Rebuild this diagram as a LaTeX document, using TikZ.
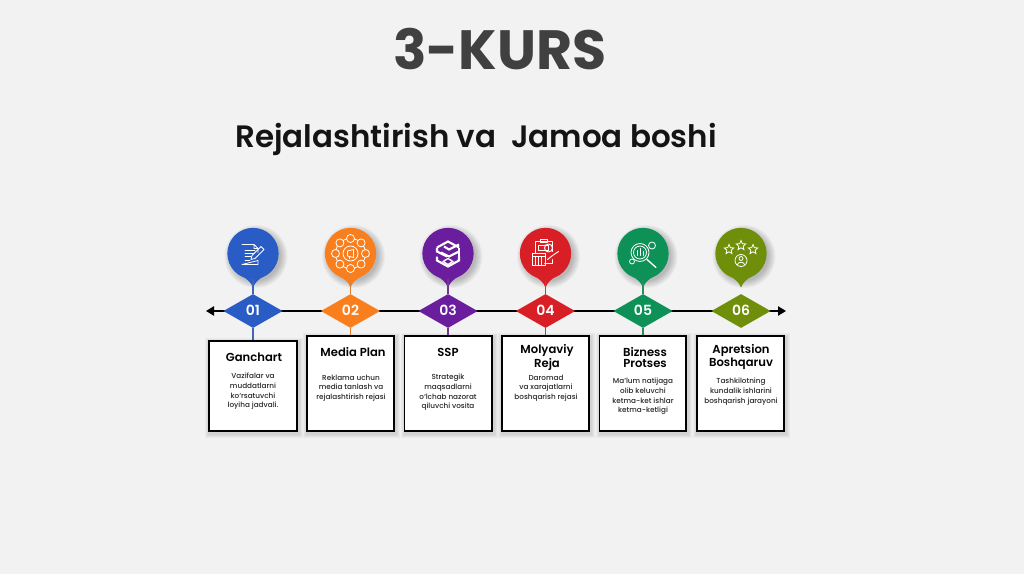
\documentclass[tikz,border=0pt]{standalone}
\usepackage{fontspec}
\setmainfont{Poppins}[BoldFont=Poppins SemiBold]
\newfontfamily\heavyfont{Poppins Bold}
\newfontfamily\midfont{Poppins Medium}
\usetikzlibrary{shapes.geometric,arrows.meta}
\definecolor{bgc}{HTML}{F2F2F2}
\definecolor{cA}{HTML}{2A5CC6}
\definecolor{cB}{HTML}{F97F1E}
\definecolor{cC}{HTML}{6A1E9E}
\definecolor{cD}{HTML}{D91F26}
\definecolor{cE}{HTML}{0E9156}
\definecolor{cF}{HTML}{6F8F0A}
\definecolor{titlec}{HTML}{404040}
\tikzset{
  ball/.style={circle,fill=#1,minimum size=38.5pt,inner sep=0pt},
  gem/.style={diamond,fill=#1,minimum width=44.5pt,minimum height=25.5pt,inner sep=0pt,text=white,font=\fontsize{10.5}{12}\selectfont\bfseries},
  card/.style={rectangle,draw=black,line width=1.4pt,fill=white,inner sep=0pt,anchor=north west},
  cardhead/.style={align=center,inner sep=0pt,text=black,font=\fontsize{8.7}{8}\selectfont\bfseries},
  carddesc/.style={align=center,inner sep=0pt,text=black!85,font=\fontsize{5.45}{7.3}\midfont\selectfont},
  stem/.style={line width=0.8pt,#1!75!gray},
  ico/.style={draw=white,line width=0.6pt,line join=round,line cap=round},
  icob/.style={draw=white,line width=1.6pt,line join=miter},
  axis/.style={line width=1.1pt,black,{Triangle[length=6pt,width=7pt]}-{Triangle[length=6pt,width=7pt]}},
  starico/.style={star,star points=5,star point ratio=2.2,draw=white,line width=0.6pt,inner sep=0pt,minimum size=7.5pt}
}
% soft shadows
\newcommand{\ballshadow}[2]{%
  \foreach \d in {7,6,5,4,3,2,1,0}{\fill[black,opacity=.03] (#1+3,#2+3) circle ({24.5+\d});}}
\newcommand{\boxshadow}[4]{%
  \foreach \d in {4,3,2,1}{\fill[black,opacity=.03] (#1-\d+1,#2-\d+2) rectangle (#3+\d+1,#4+\d+2);}}
\newcommand{\drop}[3]{\fill[#3] (#1-12,#2+22) .. controls (#1-5,#2+26) and (#1-2,#2+29) .. (#1,#2+34) .. controls (#1+2,#2+29) and (#1+5,#2+26) .. (#1+12,#2+22) -- cycle;}
\newcommand{\up}[1]{\raisebox{1.5pt}{#1}}
\begin{document}
\begin{tikzpicture}[x=0.75pt,y=-0.75pt]
\useasboundingbox (0,0) rectangle (1024,574);
\fill[bgc] (0,0) rectangle (1024,574);
\node[inner sep=0pt,text=titlec,font=\fontsize{41.5}{48}\heavyfont\selectfont] (title) at (500,49) {3-KURS};
\node[inner sep=0pt,text=black!92,font=\fontsize{23.2}{28}\selectfont\bfseries] (sub) at (476,139) {Rejalashtirish va\ \ Jamoa boshi};
% axis
\coordinate (axL) at (206,311);
\coordinate (axR) at (786,311);
\draw[axis] (axL) -- (axR);
% shadows and tips
\ballshadow{253}{253.5}\ballshadow{350.5}{253.5}\ballshadow{448}{253.5}\ballshadow{545.5}{253.5}\ballshadow{643}{253.5}\ballshadow{741}{253.5}
\boxshadow{208}{340}{298}{432}\boxshadow{306}{335}{395}{432}\boxshadow{403.5}{335}{493}{432}\boxshadow{501}{335}{590}{432}\boxshadow{598.5}{335}{687}{432}\boxshadow{696}{335}{785}{432}
\drop{253}{253.5}{cA}\drop{350.5}{253.5}{cB}\drop{448}{253.5}{cC}\drop{545.5}{253.5}{cD}\drop{643}{253.5}{cE}\drop{741}{253.5}{cF}
% balls
\node[ball=cA] (c1) at (253,253.5) {};
\node[ball=cB] (c2) at (350.5,253.5) {};
\node[ball=cC] (c3) at (448,253.5) {};
\node[ball=cD] (c4) at (545.5,253.5) {};
\node[ball=cE] (c5) at (643,253.5) {};
\node[ball=cF] (c6) at (741,253.5) {};
% gems
\node[gem=cA] (d1) at (253,311) {\up{01}};
\node[gem=cB] (d2) at (350.5,311) {\up{02}};
\node[gem=cC] (d3) at (448,311) {\up{03}};
\node[gem=cD] (d4) at (545.5,311) {\up{04}};
\node[gem=cE] (d5) at (643,311) {\up{05}};
\node[gem=cF] (d6) at (741,311) {\up{06}};
% cards
\node[card,minimum width=66.2pt,minimum height=67.7pt] (b1) at (208,340) {};
\node[card,minimum width=65.5pt,minimum height=71.4pt] (b2) at (306,335) {};
\node[card,minimum width=65.8pt,minimum height=71.4pt] (b3) at (403.5,335) {};
\node[card,minimum width=65.5pt,minimum height=71.4pt] (b4) at (501,335) {};
\node[card,minimum width=65.1pt,minimum height=71.4pt] (b5) at (598.5,335) {};
\node[card,minimum width=65.5pt,minimum height=71.4pt] (b6) at (696,335) {};
% stems
\draw[stem=cA] (c1.south) -- (d1.north); \draw[stem=cA] (d1.south) -- (b1.north -| d1.south);
\draw[stem=cB] (c2.south) -- (d2.north); \draw[stem=cB] (d2.south) -- (b2.north -| d2.south);
\draw[stem=cC] (c3.south) -- (d3.north); \draw[stem=cC] (d3.south) -- (b3.north -| d3.south);
\draw[stem=cD] (c4.south) -- (d4.north); \draw[stem=cD] (d4.south) -- (b4.north -| d4.south);
\draw[stem=cE] (c5.south) -- (d5.north); \draw[stem=cE] (d5.south) -- (b5.north -| d5.south);
% card text
\node[cardhead] (h1) at (254,357) {Ganchart};
\node[cardhead] (h2) at (353,352) {Media Plan};
\node[cardhead] (h3) at (448,352) {SSP};
\node[cardhead] (h4) at (547,357.5) {Molyaviy\\Reja};
\node[cardhead] (h5) at (645,357.5) {Bizness\\Protses};
\node[cardhead,font=\fontsize{8.7}{7.4}\selectfont\bfseries] (h6) at (741,356.5) {Apretsion\\Boshqaruv};
\node[carddesc] (t1) at (253,391.5) {Vazifalar va\\muddatlarni\\ko‘rsatuvchi\\loyiha jadvali.};
\node[carddesc] (t2) at (351,388) {Reklama uchun\\media tanlash va\\rejalashtirish rejasi};
\node[carddesc] (t3) at (448,392.5) {Strategik\\maqsadlarni\\o‘lchab nazorat\\qiluvchi vosita};
\node[carddesc] (t4) at (546,388) {Daromad\\va xarajatlarni\\boshqarish rejasi};
\node[carddesc] (t5) at (643,396.5) {Ma’lum natijaga\\olib keluvchi\\ketma-ket ishlar\\ketma-ketligi};
\node[carddesc] (t6) at (741,391.5) {Tashkilotning\\kundalik ishlarini\\boshqarish jarayoni};
% icon 1: document and pen
\begin{scope}[shift={(c1.center)}]
  \draw[ico] (-11,-9) -- (1,-9) -- (5,-5) -- (5,-1) (5,7) -- (5,11) -- (-11,11) -- cycle (1,-9) -- (1,-5) -- (5,-5);
  \draw[ico] (-8,-3) -- (2,-3) (-8,0) -- (1,0) (-8,3) -- (-2,3) (-8,7) -- (-3,7);
  \draw[ico] (-2,6) -- (-1,2) -- (8,-7) -- (11,-4) -- (2,5) -- cycle;
\end{scope}
% icon 2: ring of small circles around a megaphone
\begin{scope}[shift={(c2.center)}]
  \draw[ico] (0,0) circle (7.5);
  \draw[ico] (-3,-2.5) -- (3,-4) -- (3,4) -- (-3,2.5) -- cycle (-1,3) -- (-1,5);
  \draw[ico] (0,0) circle (15);
  \foreach \a in {0,45,...,315}{\filldraw[ico,fill=cB] (\a:15) circle (4);}
\end{scope}
% icon 3: stacked chevrons
\begin{scope}[shift={(c3.center)}]
  \draw[icob] (-11,-6) -- (0,-12) -- (11,-6);
  \draw[icob] (-11,-6) -- (-11,-2) -- (-1,3);
  \draw[icob] (-4,-7) -- (1,-4) -- (11,-9);
  \draw[icob] (11,-6) -- (11,3);
  \draw[icob] (-7,-1) -- (1,3) -- (11,-2);
  \draw[icob] (-11,3) -- (-11,7) -- (0,13) -- (11,7) -- (11,3);
  \draw[ico,line width=1pt] (-5,8) -- (0,5) -- (5,8) -- (0,11) -- cycle;
\end{scope}
% icon 4: clipboard, crate and arrow
\begin{scope}[shift={(c4.center)}]
  \draw[ico,line width=.7pt] (-10,-12) -- (7,-12) -- (7,-2) (-10,-12) -- (-10,0) (7,6) -- (7,10) -- (-1,10);
  \draw[ico,line width=.7pt] (-5,-14) -- (2,-14) -- (2,-11) -- (-5,-11) -- cycle;
  \draw[ico,line width=.7pt] (-7,-8) rectangle (3,-3) (3,-5.5) circle (4);
  \draw[ico,line width=.7pt] (-13,0) rectangle (0,12) (-13,3) -- (0,3) (-10,3) -- (-10,12) (-7,3) -- (-7,12) (-4,3) -- (-4,12);
  \draw[ico,line width=.7pt] (2,6) -- (7,2) -- (13,-2);
\end{scope}
% icon 5: magnifier and gear
\begin{scope}[shift={(c5.center)}]
  \draw[ico] (-3,-1) circle (9) (-3,-1) circle (6.5);
  \draw[ico] (-6,2) -- (-6,-3) (-3,2) -- (-3,-5) (0,2) -- (0,-2);
  \draw[ico,line width=1pt] (4,6) -- (13,14);
  \draw[ico] (9,-8) circle (3.5) (-11,8) circle (2.5);
\end{scope}
% icon 6: stars and person
\begin{scope}[shift={(c6.center)}]
  \node[starico] (s1) at (-12,-4) {};
  \node[starico] (s2) at (0,-8) {};
  \node[starico] (s3) at (12,-4) {};
  \draw[ico] (0,7) circle (6);
  \draw[ico] (0,5) circle (2);
  \draw[ico] (-3.5,11) .. controls (-3,8) and (3,8) .. (3.5,11);
\end{scope}
\end{tikzpicture}
\end{document}
